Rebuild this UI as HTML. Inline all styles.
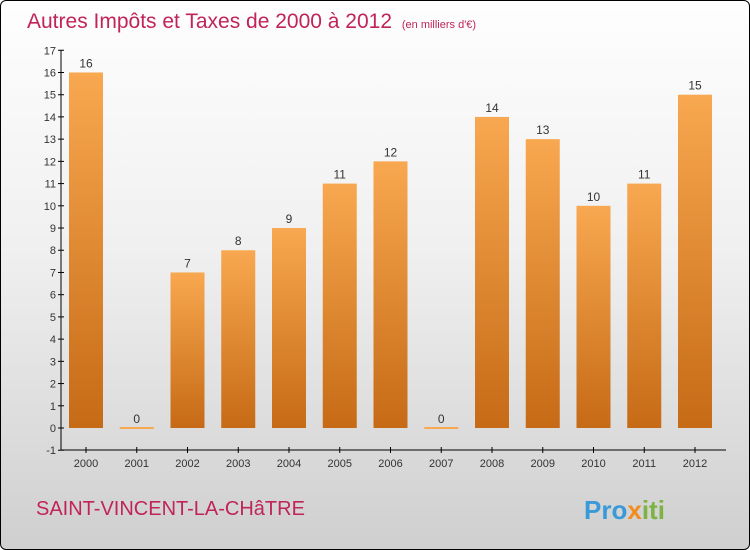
<!DOCTYPE html>
<html><head><meta charset="utf-8"><style>
body{margin:0;}
#wrap{position:relative;width:748px;height:548px;border:1px solid #000;border-radius:6px;overflow:hidden;background:linear-gradient(#fefefe 0%,#f0f0f0 45%,#cfcfcf 100%);font-family:"Liberation Sans",sans-serif;}
</style></head><body>
<div id="wrap">
<svg width="748" height="548" id="svg">
<defs><linearGradient id="bg" x1="0" y1="0" x2="0" y2="1"><stop offset="0" stop-color="#f8a850"/><stop offset="1" stop-color="#c66a16"/></linearGradient></defs>
<text x="26" y="27" font-size="21" fill="#c0245a">Autres Impôts et Taxes de 2000 à 2012 <tspan font-size="11" dx="4">(en milliers d'€)</tspan></text>
<text x="35" y="514" font-size="20" fill="#c0245a">SAINT-VINCENT-LA-CHâTRE</text>
<text x="583" y="518" font-size="26" font-weight="bold" fill="#3a9ad9">Pro<tspan fill="#f28c1e">x</tspan><tspan fill="#7cb342">iti</tspan></text>
<g id="g"></g>
</svg></div>
<script>
const years=["2000","2001","2002","2003","2004","2005","2006","2007","2008","2009","2010","2011","2012"];
const values=[16,0,7,8,9,11,12,0,14,13,10,11,15];
const yTicks=[-1,0,1,2,3,4,5,6,7,8,9,10,11,12,13,14,15,16,17];
const ns="http://www.w3.org/2000/svg",g=document.getElementById('g');
const y=v=>427-v*22.22, x=i=>85+i*50.75;
function mk(t,a,txt){const e=document.createElementNS(ns,t);for(const k in a)e.setAttribute(k,a[k]);if(txt!=null)e.textContent=txt;g.appendChild(e);return e;}
let ax=mk('line',{x1:60,y1:49,x2:60,y2:449,stroke:'#000'});


let bx=mk('line',{x1:60,y1:449,x2:725,y2:449,stroke:'#000'});


yTicks.forEach(v=>{mk('line',{x1:57,y1:y(v),x2:63,y2:y(v),stroke:'#000'});
const t=mk('text',{x:55,y:y(v)+4,'font-size':11,fill:'#333','text-anchor':'end'},v);

});
years.forEach((yr,i)=>{const cx=x(i),v=values[i];
mk('line',{x1:cx,y1:446,x2:cx,y2:452,stroke:'#000'});
const t=mk('text',{x:cx,y:466,'font-size':11,fill:'#333','text-anchor':'middle'},yr);


let b;
if(v>0){b=mk('rect',{x:cx-17,y:y(v),width:34,height:y(0)-y(v),fill:'url(#bg)'});}
else{b=mk('rect',{x:cx-17,y:y(0)-1,width:34,height:2,fill:'#f8a850'});}


const l=mk('text',{x:cx,y:y(v)-5,'font-size':12,fill:'#333','text-anchor':'middle'},v);

});
</script>
</body></html>
